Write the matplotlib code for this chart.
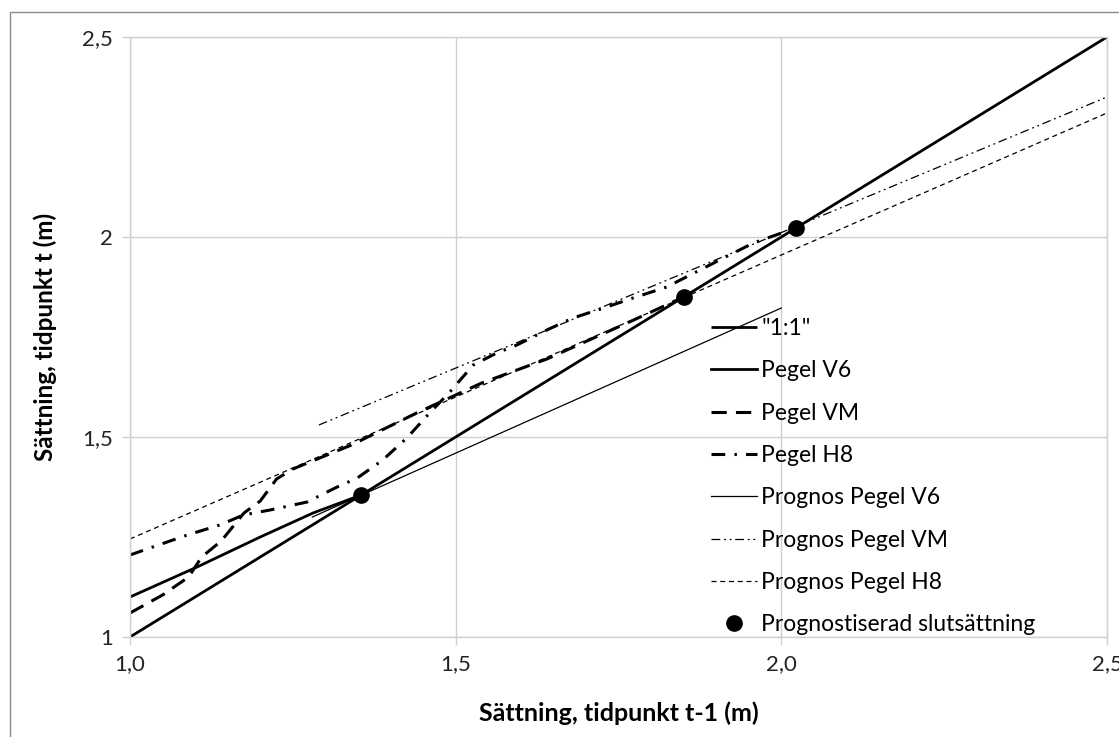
import matplotlib
matplotlib.use("Agg")
import matplotlib.pyplot as plt
from matplotlib.patches import Rectangle
from matplotlib.ticker import FuncFormatter, FixedLocator

plt.rcParams['font.family'] = ['Lato', 'DejaVu Sans']

# 1:1 reference line
one_x = [1.0, 2.5]
one_y = [1.0, 2.5]

# Measured settlement, t-1 vs t
v6_x = [1.0, 1.103, 1.2, 1.281, 1.355]
v6_y = [1.10, 1.175, 1.25, 1.31, 1.355]

vm_x = [1.0, 1.05, 1.09, 1.11, 1.14, 1.175, 1.2, 1.225, 1.25, 1.34, 1.44, 1.54, 1.64, 1.77, 1.85]
vm_y = [1.06, 1.105, 1.15, 1.2, 1.24, 1.31, 1.34, 1.395, 1.42, 1.48, 1.56, 1.635, 1.695, 1.79, 1.85]

h8_x = [1.0, 1.035, 1.088, 1.138, 1.174, 1.215, 1.272, 1.318, 1.349, 1.388, 1.425, 1.46,
        1.491, 1.527, 1.563, 1.594, 1.64, 1.68, 1.732, 1.763, 1.824, 1.875, 1.957, 2.023]
h8_y = [1.205, 1.225, 1.255, 1.28, 1.305, 1.3175, 1.3375, 1.375, 1.3975, 1.4425, 1.4975, 1.56,
        1.6125, 1.68, 1.71, 1.73, 1.7675, 1.7975, 1.825, 1.8425, 1.875, 1.9175, 1.985, 2.023]

# Forecast lines
prog_v6_x = [1.28, 2.0]
prog_v6_y = [1.30, 1.8225]

prog_vm_x = [1.29, 2.5]
prog_vm_y = [1.53, 2.35]

prog_h8_x = [1.0, 2.5]
prog_h8_y = [1.245, 2.31]

# Forecast final settlement
final_x = [1.355, 1.85, 2.023]
final_y = [1.355, 1.85, 2.023]

x_ticks = [1.0, 1.5, 2.0, 2.5]
y_ticks = [1.0, 1.5, 2.0, 2.5]

fig = plt.figure(figsize=(11.19, 7.37), dpi=100)
fig.patch.set_facecolor('white')
fig.patches.append(Rectangle((10 / 1119, -0.1), 1.2, 1.1 - 12 / 737,
                             transform=fig.transFigure, fill=False,
                             edgecolor='#8c8c8c', linewidth=1.0))
ax = fig.add_axes([130 / 1119, 1 - 637 / 737, (1107 - 130) / 1119, (637 - 37) / 737])

grid_c = '#d0d0d0'
ax.set_xlim(1.0, 2.5)
ax.set_ylim(1.0, 2.5)
ax.xaxis.set_major_locator(FixedLocator(x_ticks))
ax.yaxis.set_major_locator(FixedLocator(y_ticks))
ax.xaxis.set_major_formatter(FuncFormatter(lambda v, p: f"{v:.1f}".replace('.', ',')))
ax.yaxis.set_major_formatter(FuncFormatter(
    lambda v, p: (f"{v:g}").replace('.', ',')))
ax.grid(True, color=grid_c, linewidth=1.0)
ax.set_axisbelow(True)
for s in ax.spines.values():
    s.set_color(grid_c)
    s.set_linewidth(1.0)
ax.tick_params(axis='both', direction='out', length=6, width=1.0, color=grid_c,
               labelsize=16, labelcolor='#222222', pad=6)

k = 'black'
ax.plot(one_x, one_y, color=k, lw=2.0, label='"1:1"', solid_capstyle='butt')
ax.plot(v6_x, v6_y, color=k, lw=2.0, label='Pegel V6')
ax.plot(vm_x, vm_y, color=k, lw=2.2, dashes=(5, 3), label='Pegel VM')
ax.plot(h8_x, h8_y, color=k, lw=2.2, dashes=(4.5, 3, 0.8, 3), label='Pegel H8')
ax.plot(prog_v6_x, prog_v6_y, color=k, lw=0.9, label='Prognos Pegel V6')
ax.plot(prog_vm_x, prog_vm_y, color=k, lw=0.9, dashes=(7, 3, 1.5, 3, 1.5, 3),
        label='Prognos Pegel VM')
ax.plot(prog_h8_x, prog_h8_y, color=k, lw=0.9, dashes=(4, 3), label='Prognos Pegel H8')
ax.plot(final_x, final_y, 'o', color=k, markersize=11, linestyle='none',
        label='Prognostiserad slutsättning', zorder=5)

ax.legend(loc='upper left', bbox_to_anchor=((711 - 130) / 977, (637 - 318) / 600),
          frameon=False, fontsize=16.5, handlelength=2.0, handletextpad=0.2,
          labelspacing=0.93, borderaxespad=0, borderpad=0)

ax.set_xlabel('Sättning, tidpunkt t-1 (m)', fontsize=18, fontweight='bold', labelpad=20)
ax.set_ylabel('Sättning, tidpunkt t (m)', fontsize=17.5, fontweight='bold', labelpad=18)

fig.savefig('out.png', dpi=100, facecolor='white')
